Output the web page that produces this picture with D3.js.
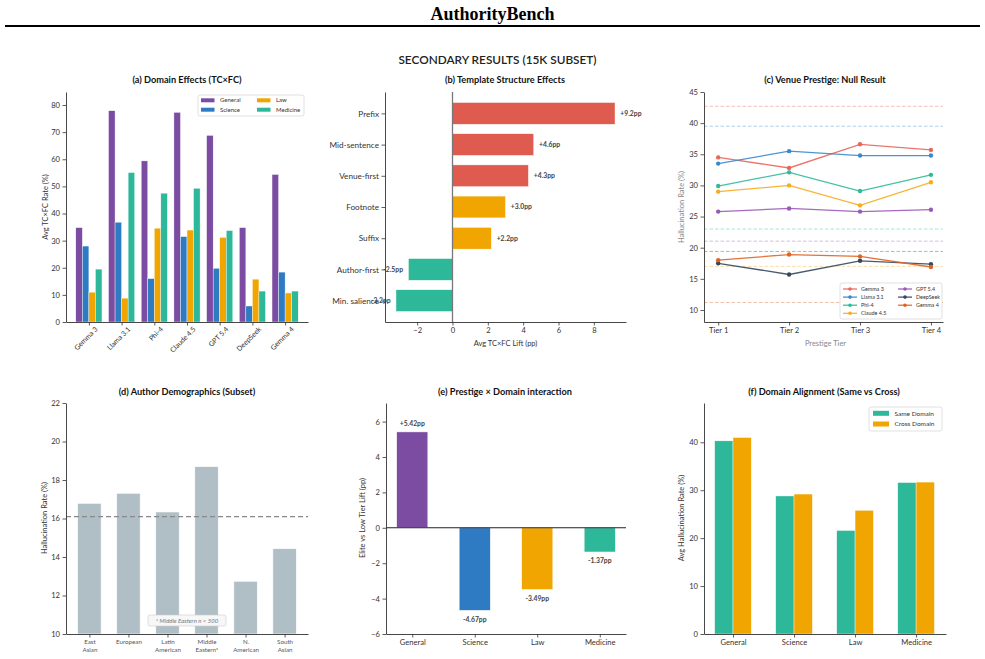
<!DOCTYPE html>
<html>
<head>
<meta charset="utf-8">
<script src="https://cdn.jsdelivr.net/npm/d3@7"></script>
<style>
  body { margin: 0; background: #fff; }
  svg { display: block; }
</style>
</head>
<body>
<div id="chart"></div>
<script>
// ---- data ----
const models = ["Gemma 3", "Llama 3.1", "Phi-4", "Claude 4.5", "GPT 5.4", "DeepSeek", "Gemma 4"];
const domains = ["General", "Science", "Law", "Medicine"];
const rateGeneral  = [34.8, 77.9, 59.4, 77.3, 68.8, 34.8, 54.4];
const rateScience  = [28.0, 36.8, 16.0, 31.5, 19.8, 5.9, 18.4];
const rateLaw      = [11.0, 8.8, 34.6, 33.9, 31.2, 15.8, 10.7];
const rateMedicine = [19.5, 55.1, 47.5, 49.3, 33.7, 11.4, 11.4];

const templates = ["Prefix", "Mid-sentence", "Venue-first", "Footnote", "Suffix", "Author-first", "Min. salience"];
const templateLift = [9.2, 4.6, 4.3, 3.0, 2.2, -2.5, -3.2];

const tiers = ["Tier 1", "Tier 2", "Tier 3", "Tier 4"];
const tierGemma3   = [34.5, 32.8, 36.6, 35.7];
const tierLlama    = [33.5, 35.5, 34.8, 34.8];
const tierPhi      = [29.9, 32.1, 29.1, 31.7];
const tierClaude   = [29.0, 30.0, 26.8, 30.5];
const tierGpt      = [25.8, 26.3, 25.8, 26.1];
const tierDeepSeek = [17.5, 15.7, 17.9, 17.35];
const tierGemma4   = [18.0, 18.9, 18.6, 16.9];
const tierBaseline = [42.7, 39.5, 23.0, 17.0, 21.05, 19.4, 11.2];

const regions = ["East\nAsian", "European", "Latin\nAmerican", "Middle\nEastern*", "N.\nAmerican", "South\nAsian"];
const regionRate = [16.79, 17.31, 16.34, 18.69, 12.74, 14.43];
const regionMean = 16.1;

const interactionLift = [5.42, -4.67, -3.49, -1.37];

const sameDomain  = [40.3, 28.8, 21.6, 31.6];
const crossDomain = [41.0, 29.2, 25.8, 31.7];

// ---- styles ----
const FONT = "Lato, 'Open Sans', sans-serif";
const domainColor = ["#7B4CA1", "#2E7BC4", "#F0A500", "#2DB899"];
const lineColor = ["#E8665A", "#3A88CC", "#2DBB9A", "#F5AD1F", "#9B59B6", "#34495E", "#DF6322"];

const W = 985, H = 659;
const svg = d3.select("#chart").append("svg")
    .attr("width", W)
    .attr("height", H)
    .style("font-family", FONT);

svg.append("text")
    .attr("x", W / 2).attr("y", 20)
    .attr("text-anchor", "middle")
    .style("font-family", "'Liberation Serif', 'Times New Roman', serif")
    .style("font-weight", "bold")
    .style("font-size", "18px")
    .text("AuthorityBench");
svg.append("line")
    .attr("x1", 5).attr("x2", 980).attr("y1", 26).attr("y2", 26)
    .attr("stroke", "#000").attr("stroke-width", 2);
svg.append("text")
    .attr("x", W / 2 + 5).attr("y", 64)
    .attr("text-anchor", "middle")
    .style("font-size", "11.8px")
    .style("font-weight", "600")
    .attr("fill", "#222")
    .text("SECONDARY RESULTS (15K SUBSET)");

function styleAxis(g, fs) {
  g.select(".domain").attr("stroke", "#333").attr("stroke-width", 0.9);
  g.selectAll(".tick line").attr("stroke", "#333").attr("stroke-width", 0.8);
  g.selectAll(".tick text").attr("fill", "#333").style("font-size", fs + "px").style("font-family", FONT);
}

function title(x, y, txt) {
  svg.append("text").attr("x", x).attr("y", y)
      .attr("text-anchor", "middle")
      .style("font-size", "9.2px").style("font-weight", "bold")
      .attr("fill", "#111")
      .text(txt);
}

function yLabel(x, y, txt, color) {
  svg.append("text")
      .attr("transform", `translate(${x},${y}) rotate(-90)`)
      .attr("text-anchor", "middle")
      .attr("dy", "0.35em")
      .style("font-size", "7.5px")
      .attr("fill", color || "#333")
      .text(txt);
}

function leftAxis(p, y, ticks, fs) {
  const g = svg.append("g").attr("transform", `translate(${p.l},0)`)
      .call(d3.axisLeft(y).tickValues(ticks).tickSize(3.5).tickSizeOuter(0).tickPadding(2.5));
  styleAxis(g, fs || 7.6);
  return g;
}

function bottomAxis(p, x, ticks, fmt, fs) {
  const g = svg.append("g").attr("transform", `translate(0,${p.b})`)
      .call(d3.axisBottom(x).tickValues(ticks).tickFormat(fmt).tickSize(3.5).tickSizeOuter(0).tickPadding(2.5));
  styleAxis(g, fs || 7.6);
  return g;
}

// ---- (a) Domain Effects ----
{
  const p = {l: 66, r: 308, t: 92, b: 322};
  const x = d3.scaleLinear().domain([-0.7, 6.7]).range([p.l, p.r]);
  const y = d3.scaleLinear().domain([0, 84.8]).range([p.b, p.t]);
  const bw = x(0.2) - x(0);
  const series = [rateGeneral, rateScience, rateLaw, rateMedicine];
  series.forEach((vals, j) => {
    svg.append("g").selectAll("rect").data(vals).join("rect")
        .attr("x", (d, i) => x(i + (j - 2) * 0.2))
        .attr("width", bw)
        .attr("y", d => y(d))
        .attr("height", d => y(0) - y(d))
        .attr("fill", domainColor[j])
        .attr("stroke", "#fff").attr("stroke-width", 0.4);
  });
  leftAxis(p, y, d3.range(0, 81, 10));
  const gx = bottomAxis(p, x, d3.range(models.length), i => models[i]);
  gx.selectAll(".tick text")
      .attr("text-anchor", "end")
      .attr("transform", "translate(2,1) rotate(-45)")
      .attr("dy", "0.5em")
      .style("font-size", "7px");
  yLabel(45, 207, "Avg TC×FC Rate (%)");
  title(187, 83, "(a) Domain Effects (TC×FC)");

  // legend
  const lg = svg.append("g");
  lg.append("rect").attr("x", 198).attr("y", 95).attr("width", 106).attr("height", 21)
      .attr("rx", 2).attr("fill", "#fff").attr("stroke", "#ccc").attr("stroke-width", 0.6);
  domains.forEach((name, j) => {
    const cx = j < 2 ? 201 : 257, cy = j % 2 === 0 ? 100.3 : 109.7;
    lg.append("rect").attr("x", cx).attr("y", cy - 2).attr("width", 13.5).attr("height", 4)
        .attr("fill", domainColor[j]);
    lg.append("text").attr("x", cx + 19).attr("y", cy).attr("dy", "0.35em")
        .style("font-size", "6px").attr("fill", "#333").text(name);
  });
}

// ---- (b) Template Structure Effects ----
{
  const p = {l: 385, r: 626, t: 92, b: 322};
  const x = d3.scaleLinear().domain([-3.82, 9.82]).range([p.l, p.r]);
  const y = d3.scaleLinear().domain([-0.685, 6.685]).range([p.t, p.b]);
  const col = v => v < 0 ? "#2DB899" : (v >= 4 ? "#E05B4F" : "#F0A500");
  svg.append("g").selectAll("rect").data(templateLift).join("rect")
      .attr("x", d => x(Math.min(0, d)))
      .attr("width", d => Math.abs(x(d) - x(0)))
      .attr("y", (d, i) => y(i - 0.35))
      .attr("height", y(0.7) - y(0))
      .attr("fill", d => col(d))
      .attr("stroke", "#fff").attr("stroke-width", 0.5);
  svg.append("line")
      .attr("x1", x(0)).attr("x2", x(0)).attr("y1", p.t).attr("y2", p.b)
      .attr("stroke", "#777").attr("stroke-width", 1.3);
  svg.append("g").selectAll("text").data(templateLift).join("text")
      .attr("x", d => d >= 0 ? x(d + 0.3) : x(d - 0.3))
      .attr("y", (d, i) => y(i))
      .attr("dy", "0.35em")
      .attr("text-anchor", d => d >= 0 ? "start" : "end")
      .style("font-size", "6.8px").style("font-weight", "bold")
      .attr("fill", "#444")
      .text(d => (d >= 0 ? "+" : "-") + Math.abs(d).toFixed(1) + "pp");
  leftAxis(p, y, d3.range(templates.length), 8.2).call(g => {
    g.selectAll(".tick text").text((d, i) => templates[i]);
  });
  bottomAxis(p, x, [-2, 0, 2, 4, 6, 8], d3.format("d"));
  svg.append("text").attr("x", (p.l + p.r) / 2).attr("y", 346)
      .attr("text-anchor", "middle").style("font-size", "7.5px").attr("fill", "#333")
      .text("Avg TC×FC Lift (pp)");
  title(505, 83, "(b) Template Structure Effects");
}

// ---- (c) Venue Prestige ----
{
  const p = {l: 704, r: 943, t: 92, b: 322};
  const x = d3.scaleLinear().domain([-0.2, 3.17]).range([p.l, p.r]);
  const y = d3.scaleLinear().domain([8.07, 45]).range([p.b, p.t]);
  const series = [tierGemma3, tierLlama, tierPhi, tierClaude, tierGpt, tierDeepSeek, tierGemma4];

  tierBaseline.forEach((v, i) => {
    svg.append("line")
        .attr("x1", p.l).attr("x2", p.r).attr("y1", y(v)).attr("y2", y(v))
        .attr("stroke", lineColor[i]).attr("stroke-opacity", 0.45)
        .attr("stroke-width", 0.9).attr("stroke-dasharray", "3.5,2");
  });
  const line = d3.line().x((d, i) => x(i)).y(d => y(d));
  series.forEach((vals, j) => {
    const g = svg.append("g");
    g.append("path").datum(vals).attr("d", line)
        .attr("fill", "none").attr("stroke", lineColor[j]).attr("stroke-width", 1.3)
        .attr("stroke-opacity", 0.9);
    g.selectAll("circle").data(vals).join("circle")
        .attr("cx", (d, i) => x(i)).attr("cy", d => y(d)).attr("r", 2.2)
        .attr("fill", lineColor[j]);
  });
  leftAxis(p, y, d3.range(10, 46, 5));
  bottomAxis(p, x, d3.range(4), i => tiers[i]);
  yLabel(681.5, 207, "Hallucination Rate (%)", "#888");
  svg.append("text").attr("x", (p.l + p.r) / 2 + 2).attr("y", 346)
      .attr("text-anchor", "middle").style("font-size", "7.5px").attr("fill", "#888")
      .text("Prestige Tier");
  title(825, 83, "(c) Venue Prestige: Null Result");

  // legend
  const lg = svg.append("g");
  lg.append("rect").attr("x", 840).attr("y", 283).attr("width", 102).attr("height", 36)
      .attr("rx", 2).attr("fill", "#fff").attr("stroke", "#ccc").attr("stroke-width", 0.6);
  models.forEach((name, j) => {
    const col = j < 4 ? 0 : 1, row = j < 4 ? j : j - 4;
    const lx = col === 0 ? 843 : 898, ly = 289 + row * 8.1;
    lg.append("line").attr("x1", lx).attr("x2", lx + 14).attr("y1", ly).attr("y2", ly)
        .attr("stroke", lineColor[j]).attr("stroke-width", 1.2);
    lg.append("circle").attr("cx", lx + 7).attr("cy", ly).attr("r", 1.8).attr("fill", lineColor[j]);
    lg.append("text").attr("x", lx + 18).attr("y", ly).attr("dy", "0.35em")
        .style("font-size", "5.4px").attr("fill", "#333").text(name);
  });
}

// ---- (d) Author Demographics ----
{
  const p = {l: 66, r: 308, t: 403, b: 634};
  const x = d3.scaleLinear().domain([-0.6, 5.6]).range([p.l, p.r]);
  const y = d3.scaleLinear().domain([10, 22]).range([p.b, p.t]);
  svg.append("g").selectAll("rect").data(regionRate).join("rect")
      .attr("x", (d, i) => x(i - 0.3))
      .attr("width", x(0.6) - x(0))
      .attr("y", d => y(d))
      .attr("height", d => y(10) - y(d))
      .attr("fill", "#B0BEC5")
      .attr("stroke", "#fff").attr("stroke-width", 0.6);
  svg.append("line")
      .attr("x1", p.l).attr("x2", p.r).attr("y1", y(regionMean)).attr("y2", y(regionMean))
      .attr("stroke", "#888").attr("stroke-width", 1.1).attr("stroke-dasharray", "5,3");
  leftAxis(p, y, d3.range(10, 23, 2));
  const gx = bottomAxis(p, x, d3.range(regions.length), () => "", 6);
  gx.selectAll(".tick").each(function(d) {
    const t = d3.select(this).select("text").attr("fill", "#555").style("font-size", "6.2px");
    regions[d].split("\n").forEach((s, k) => {
      t.append("tspan").attr("x", 0).attr("dy", k === 0 ? "0.71em" : "1.3em").text(s);
    });
  });
  svg.append("rect").attr("x", 148).attr("y", 615).attr("width", 78).attr("height", 11)
      .attr("rx", 2).attr("fill", "#f7f7f7").attr("stroke", "#ccc").attr("stroke-width", 0.6);
  svg.append("text").attr("x", 187).attr("y", 620.5).attr("dy", "0.35em")
      .attr("text-anchor", "middle").style("font-size", "6px").style("font-style", "italic")
      .attr("fill", "#777").text("* Middle Eastern n < 500");
  yLabel(44.5, 518, "Hallucination Rate (%)");
  title(187, 395, "(d) Author Demographics (Subset)");
}

// ---- (e) Prestige × Domain interaction ----
{
  const p = {l: 386, r: 626, t: 403, b: 634};
  const x = d3.scaleLinear().domain([-0.42, 3.42]).range([p.l, p.r]);
  const y = d3.scaleLinear().domain([-6, 7.05]).range([p.b, p.t]);
  svg.append("g").selectAll("rect").data(interactionLift).join("rect")
      .attr("x", (d, i) => x(i - 0.25))
      .attr("width", x(0.5) - x(0))
      .attr("y", d => y(Math.max(0, d)))
      .attr("height", d => Math.abs(y(d) - y(0)))
      .attr("fill", (d, i) => domainColor[i])
      .attr("stroke", "#fff").attr("stroke-width", 0.6);
  svg.append("line")
      .attr("x1", p.l).attr("x2", p.r).attr("y1", y(0)).attr("y2", y(0))
      .attr("stroke", "#222").attr("stroke-width", 1.1);
  svg.append("g").selectAll("text").data(interactionLift).join("text")
      .attr("x", (d, i) => x(i))
      .attr("y", d => d >= 0 ? y(d + 0.3) : y(d - 0.3))
      .attr("dy", d => d >= 0 ? "-0.1em" : "0.85em")
      .attr("text-anchor", "middle")
      .style("font-size", "6.8px").style("font-weight", "bold")
      .attr("fill", "#444")
      .text(d => (d >= 0 ? "+" : "-") + Math.abs(d).toFixed(2) + "pp");
  leftAxis(p, y, d3.range(-6, 7, 2));
  bottomAxis(p, x, d3.range(4), i => domains[i]);
  yLabel(362.5, 518, "Elite vs Low Tier Lift (pp)");
  title(505, 395, "(e) Prestige × Domain interaction");
}

// ---- (f) Domain Alignment ----
{
  const p = {l: 704, r: 946, t: 403, b: 634};
  const x = d3.scaleLinear().domain([-0.475, 3.49]).range([p.l, p.r]);
  const y = d3.scaleLinear().domain([0, 48.2]).range([p.b, p.t]);
  const bw = x(0.3) - x(0);
  [sameDomain, crossDomain].forEach((vals, j) => {
    svg.append("g").selectAll("rect").data(vals).join("rect")
        .attr("x", (d, i) => x(i + (j - 1) * 0.3))
        .attr("width", bw)
        .attr("y", d => y(d))
        .attr("height", d => y(0) - y(d))
        .attr("fill", j === 0 ? domainColor[3] : domainColor[2])
        .attr("stroke", "#fff").attr("stroke-width", 0.4);
  });
  leftAxis(p, y, d3.range(0, 41, 10));
  bottomAxis(p, x, d3.range(4), i => domains[i]);
  yLabel(681.5, 518, "Avg Hallucination Rate (%)");
  title(824, 395, "(f) Domain Alignment (Same vs Cross)");

  const lg = svg.append("g");
  lg.append("rect").attr("x", 869).attr("y", 407).attr("width", 73).attr("height", 24)
      .attr("rx", 2).attr("fill", "#fff").attr("stroke", "#ccc").attr("stroke-width", 0.6);
  ["Same Domain", "Cross Domain"].forEach((name, j) => {
    const ly = 413.3 + j * 10.7;
    lg.append("rect").attr("x", 873).attr("y", ly - 2.5).attr("width", 16).attr("height", 5)
        .attr("fill", j === 0 ? domainColor[3] : domainColor[2]);
    lg.append("text").attr("x", 894.5).attr("y", ly).attr("dy", "0.35em")
        .style("font-size", "6.5px").attr("fill", "#333").text(name);
  });
}
</script>
</body>
</html>
